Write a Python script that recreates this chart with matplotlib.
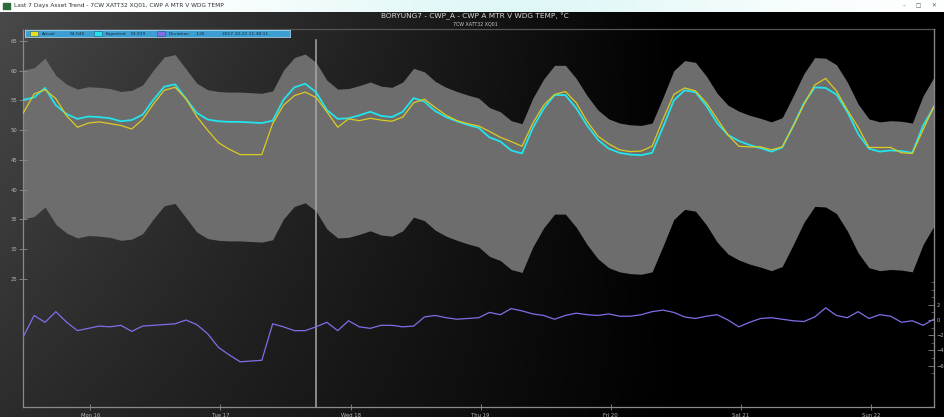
import numpy as np
import pandas as pd
import matplotlib
matplotlib.use("Agg")
import matplotlib.pyplot as plt
import matplotlib.dates as mdates
from matplotlib.patches import Rectangle

# Tendencia de 7 dias, muestras cada 2 horas
tiempos = pd.date_range("2017-10-15 11:38:11", periods=85, freq="2h")

actual = [52.9, 56.1, 56.8, 55.3, 52.4, 50.5, 51.2, 51.4, 51.1, 50.8,
          50.2, 51.8, 54.4, 56.7, 57.2, 55.3, 52.3, 50.0, 47.9, 46.8,
          45.9, 45.9, 45.9, 51.1, 54.2, 55.8, 56.4, 55.5, 53.1, 50.5,
          51.9, 51.6, 52.0, 51.7, 51.5, 52.2, 54.6, 55.2, 53.8, 52.5,
          51.6, 51.1, 50.7, 49.8, 48.8, 48.1, 47.3, 51.2, 54.2, 56.0,
          56.5, 54.6, 51.5, 49.0, 47.7, 46.7, 46.4, 46.5, 47.3, 51.8,
          56.0, 57.1, 56.6, 54.6, 51.9, 49.2, 47.3, 47.2, 47.2, 46.7,
          47.2, 50.6, 54.3, 57.6, 58.7, 56.6, 53.4, 50.5, 47.1, 47.1,
          47.1, 46.2, 46.1, 50.1, 54.045]

esperado = [55.1, 55.5, 57.1, 54.2, 52.7, 51.9, 52.3, 52.2, 52.0, 51.5,
            51.7, 52.6, 55.1, 57.3, 57.7, 55.3, 52.9, 51.8, 51.5, 51.4,
            51.4, 51.3, 51.2, 51.6, 55.1, 57.2, 57.8, 56.4, 53.4, 51.9,
            52.0, 52.5, 53.1, 52.4, 52.2, 53.1, 55.4, 54.8, 53.2, 52.2,
            51.5, 50.9, 50.4, 48.8, 48.1, 46.6, 46.1, 50.4, 53.6, 55.9,
            55.9, 53.7, 50.8, 48.4, 46.9, 46.2, 45.9, 45.8, 46.2, 50.5,
            55.0, 56.7, 56.4, 54.1, 51.2, 49.2, 48.2, 47.5, 47.0, 46.4,
            47.1, 50.7, 54.5, 57.2, 57.1, 56.0, 53.1, 49.4, 46.9, 46.4,
            46.6, 46.5, 46.2, 50.8, 53.919]

# limites del modelo alrededor del valor esperado
limite_sup = 5.0
limite_inf = 20.0

actual = np.array(actual)
esperado = np.array(esperado)
desviacion = actual - esperado

fig = plt.figure(figsize=(9.44, 4.17), dpi=100)
fig.patch.set_facecolor("black")

# fondo degradado gris -> negro
fondo = fig.add_axes([0, 0, 1, 1], zorder=-10)
fondo.axis("off")
X, Y = np.meshgrid(np.linspace(0, 1, 400), np.linspace(0, 1, 200))
g = np.clip(0.29 * (1 - X / 0.72) * (1 - 0.4 * Y), 0, None)
fondo.imshow(np.dstack([g, g, g]), extent=(0, 1, 0, 1), aspect="auto", origin="upper")
fondo.set_xlim(0, 1)
fondo.set_ylim(0, 1)

# barra de la ventana
barra = fig.add_axes([0, 1 - 12 / 417, 1, 12 / 417])
barra.set_xlim(0, 944)
barra.set_ylim(12, 0)
barra.axis("off")
grad = np.linspace(0, 1, 300)
col = np.array([1.0, 1.0, 1.0]) - np.outer(np.exp(-((grad - 0.55) / 0.25) ** 2), [0.12, 0.03, 0.03])
barra.imshow(col[np.newaxis, :, :], extent=(0, 944, 12, 0), aspect="auto")
barra.add_patch(Rectangle((3, 2.5), 7, 6, color="#2e6b3a"))
barra.text(14, 6, "Last 7 Days Asset Trend - 7CW XATT32 XQ01, CWP A MTR V WDG TEMP",
           fontsize=4.2, color="#333333", va="center")
for xb, s in [(904, "\u2013"), (918, "\u25a1"), (934, "\u2715")]:
    barra.text(xb, 6, s, fontsize=4, color="#555555", ha="center", va="center")

# titulos
fig.text(475 / 944, 1 - 16.7 / 417, "BORYUNG7 - CWP_A - CWP A MTR V WDG TEMP, \u00b0C",
         fontsize=5.3, color="#d8d8d8", ha="center", va="center")
fig.text(475 / 944, 1 - 24 / 417, "7CW XATT32 XQ01", fontsize=3.4, color="#cccccc",
         ha="center", va="center")

ax = fig.add_axes([23.3 / 944, 10 / 417, (934 - 23.3) / 944, (407 - 29) / 417])
ax.set_facecolor("none")
ax.set_xlim(tiempos[0], tiempos[-1])
ax.set_ylim(3.5, 67)

ax.fill_between(tiempos, esperado - limite_inf, esperado + limite_sup,
                color="#6d6d6d", lw=0, zorder=1)
ax.axvline(pd.Timestamp("2017-10-17 17:37"), ymin=0, ymax=0.97, color="#a8a8a8", lw=1.1, zorder=2)
ax.plot(tiempos, esperado, color="#22e4ec", lw=1.3, zorder=3)
ax.plot(tiempos, actual, color="#dccb22", lw=0.9, zorder=4)

ax.set_yticks([25, 30, 35, 40, 45, 50, 55, 60, 65])
ax.tick_params(axis="y", direction="inout", length=6, width=0.6, color="#8c8c8c",
               labelsize=3.8, labelcolor="#b8b8b8", pad=1)
ax.xaxis.set_major_locator(mdates.DayLocator())
ax.xaxis.set_major_formatter(mdates.DateFormatter("%a %d"))
ax.tick_params(axis="x", direction="inout", length=5, width=0.6, color="#8c8c8c",
               labelsize=3.8, labelcolor="#b8b8b8", pad=1.5)
for lado in ["left", "bottom", "right"]:
    ax.spines[lado].set_color("#8a8a8a")
    ax.spines[lado].set_linewidth(0.9)
ax.spines["top"].set_color("#555555")
ax.spines["top"].set_linewidth(0.9)

# eje derecho para la desviacion
ax2 = ax.twinx()
ax2.set_ylim(-11.45, 38.3)
ax2.plot(tiempos, desviacion, color="#7d6fe8", lw=0.9, zorder=5)
ax2.set_yticks([-6, -4, -2, 0, 2])
ax2.set_yticks(np.arange(-7, 6), minor=True)
ax2.tick_params(axis="y", which="major", direction="in", length=4, width=0.6, color="#8c8c8c",
                labelsize=3.8, labelcolor="#b8b8b8", pad=2)
ax2.tick_params(axis="y", which="minor", direction="in", length=2, width=0.5, color="#777777")
for lado in ["left", "bottom", "top"]:
    ax2.spines[lado].set_visible(False)
ax2.spines["right"].set_color("#8a8a8a")

# barra de leyenda
ley = fig.add_axes([25 / 944, 1 - 37 / 417, 265 / 944, 7 / 417])
ley.set_xlim(25, 290)
ley.set_ylim(7, 0)
ley.set_facecolor("#3c9fd3")
for s in ley.spines.values():
    s.set_color("#a8d4ee")
    s.set_linewidth(0.6)
ley.set_xticks([])
ley.set_yticks([])
items = [(30, "#e8dc20", "Actual", 70, "54.045"),
         (94, "#22e4ec", "Expected", 131, "53.919"),
         (157, "#7d6fe8", "Deviation", 196, ".126")]
for x0, c, nombre, xv, valor in items:
    ley.add_patch(Rectangle((x0, 1.3), 8, 4.4, facecolor=c, edgecolor="#2a5a7a", lw=0.4))
    ley.text(x0 + 12, 3.6, nombre, fontsize=3.2, color="#14283f", va="center")
    ley.text(xv, 3.6, valor, fontsize=3.2, color="#14283f", va="center")
ley.text(222, 3.6, "2017-10-22 11:38:11", fontsize=3.2, color="#14283f", va="center")

fig.savefig("out.png", dpi=100, facecolor=fig.get_facecolor())
